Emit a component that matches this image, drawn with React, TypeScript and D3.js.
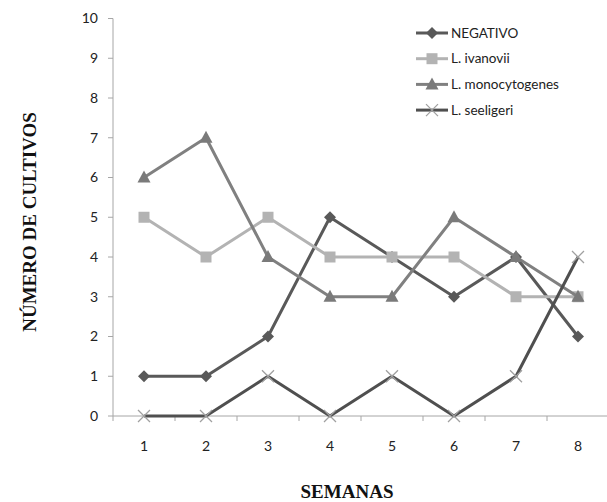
import { useRef, useEffect } from 'react';
import * as d3 from 'd3';

const weeks = ['1', '2', '3', '4', '5', '6', '7', '8'];
const yTicks = [0, 1, 2, 3, 4, 5, 6, 7, 8, 9, 10];

const negativo = [1, 1, 2, 5, 4, 3, 4, 2];
const ivanovii = [5, 4, 5, 4, 4, 4, 3, 3];
const monocytogenes = [6, 7, 4, 3, 3, 5, 4, 3];
const seeligeri = [0, 0, 1, 0, 1, 0, 1, 4];

const seriesNames = ['NEGATIVO', 'L. ivanovii', 'L. monocytogenes', 'L. seeligeri'];

interface Series {
  name: string;
  values: number[];
  line: string;
  marker: string;
  shape: 'diamond' | 'square' | 'triangle' | 'cross';
}

const series: Series[] = [
  { name: seriesNames[0], values: negativo, line: '#595959', marker: '#595959', shape: 'diamond' },
  { name: seriesNames[1], values: ivanovii, line: '#b3b3b3', marker: '#b3b3b3', shape: 'square' },
  { name: seriesNames[2], values: monocytogenes, line: '#808080', marker: '#7a7a7a', shape: 'triangle' },
  { name: seriesNames[3], values: seeligeri, line: '#4f4f4f', marker: '#a0a0a0', shape: 'cross' },
];

const labelFont = 'Lato, "Open Sans", sans-serif';

function drawMarker(
  g: d3.Selection<SVGGElement, unknown, null, undefined>,
  s: Series,
  cx: number,
  cy: number,
) {
  if (s.shape === 'diamond') {
    g.append('path')
      .attr('d', `M${cx},${cy - 6}L${cx + 6},${cy}L${cx},${cy + 6}L${cx - 6},${cy}Z`)
      .attr('fill', s.marker);
  } else if (s.shape === 'square') {
    g.append('rect')
      .attr('x', cx - 5.5)
      .attr('y', cy - 5.5)
      .attr('width', 11)
      .attr('height', 11)
      .attr('fill', s.marker);
  } else if (s.shape === 'triangle') {
    g.append('path')
      .attr('d', `M${cx},${cy - 7}L${cx + 6.5},${cy + 5}L${cx - 6.5},${cy + 5}Z`)
      .attr('fill', s.marker);
  } else {
    g.append('path')
      .attr('d', `M${cx - 6},${cy - 6}L${cx + 6},${cy + 6}M${cx - 6},${cy + 6}L${cx + 6},${cy - 6}`)
      .attr('stroke', s.marker)
      .attr('stroke-width', 1.3)
      .attr('fill', 'none');
  }
}

export default function App() {
  const svgRef = useRef<SVGSVGElement>(null);

  useEffect(() => {
    if (!svgRef.current) return;
    const svg = d3.select(svgRef.current);
    svg.selectAll('*').remove();

    const x = d3.scaleBand<string>().domain(weeks).range([113, 609]);
    const y = d3.scaleLinear().domain([0, 10]).range([416, 18.5]);
    const cx = (i: number) => x(weeks[i])! + x.bandwidth() / 2;

    const axisColor = '#a6a6a6';

    // Y axis
    svg.append('line')
      .attr('x1', 113).attr('x2', 113)
      .attr('y1', y(10)).attr('y2', y(0))
      .attr('stroke', axisColor).attr('stroke-width', 1);
    yTicks.forEach((t) => {
      svg.append('line')
        .attr('x1', 108).attr('x2', 113)
        .attr('y1', y(t)).attr('y2', y(t))
        .attr('stroke', axisColor);
      svg.append('text')
        .attr('x', 98)
        .attr('y', y(t))
        .attr('dy', '0.35em')
        .attr('text-anchor', 'end')
        .attr('font-family', labelFont)
        .attr('font-size', 14)
        .attr('fill', '#222')
        .text(t);
    });

    // X axis
    svg.append('line')
      .attr('x1', 113).attr('x2', 609)
      .attr('y1', y(0)).attr('y2', y(0))
      .attr('stroke', axisColor);
    weeks.forEach((w) => {
      const xt = x(w)!;
      svg.append('line')
        .attr('x1', xt).attr('x2', xt)
        .attr('y1', y(0)).attr('y2', y(0) + 5)
        .attr('stroke', axisColor);
      svg.append('text')
        .attr('x', xt + x.bandwidth() / 2)
        .attr('y', 446)
        .attr('dy', '0.35em')
        .attr('text-anchor', 'middle')
        .attr('font-family', labelFont)
        .attr('font-size', 14)
        .attr('fill', '#222')
        .text(w);
    });

    // Axis titles
    svg.append('text')
      .attr('x', 347)
      .attr('y', 498)
      .attr('text-anchor', 'middle')
      .attr('font-family', '"Liberation Serif", serif')
      .attr('font-weight', 'bold')
      .attr('font-size', 19)
      .attr('fill', '#111')
      .text('SEMANAS');
    svg.append('text')
      .attr('transform', 'translate(36,222) rotate(-90)')
      .attr('text-anchor', 'middle')
      .attr('font-family', '"Liberation Serif", serif')
      .attr('font-weight', 'bold')
      .attr('font-size', 19)
      .attr('fill', '#111')
      .text('NÚMERO DE CULTIVOS');

    // Lines
    const line = d3
      .line<number>()
      .x((_, i) => cx(i))
      .y((d) => y(d));

    series.forEach((s) => {
      const g = svg.append('g');
      g.append('path')
        .attr('d', line(s.values))
        .attr('fill', 'none')
        .attr('stroke', s.line)
        .attr('stroke-width', 3)
        .attr('stroke-linejoin', 'round');
      s.values.forEach((v, i) => drawMarker(g, s, cx(i), y(v)));
    });

    // Legend
    series.forEach((s, i) => {
      const ly = 33 + i * 25.7;
      const g = svg.append('g');
      g.append('line')
        .attr('x1', 416).attr('x2', 448)
        .attr('y1', ly).attr('y2', ly)
        .attr('stroke', s.line)
        .attr('stroke-width', 3);
      drawMarker(g, s, 432, ly);
      g.append('text')
        .attr('x', 451)
        .attr('y', ly)
        .attr('dy', '0.35em')
        .attr('font-family', labelFont)
        .attr('font-size', 13.5)
        .attr('fill', '#222')
        .text(s.name);
    });
  }, []);

  return (
    <svg
      ref={svgRef}
      width={607}
      height={502}
      style={{ position: 'absolute', left: 0, top: 0, background: '#fff' }}
    />
  );
}
